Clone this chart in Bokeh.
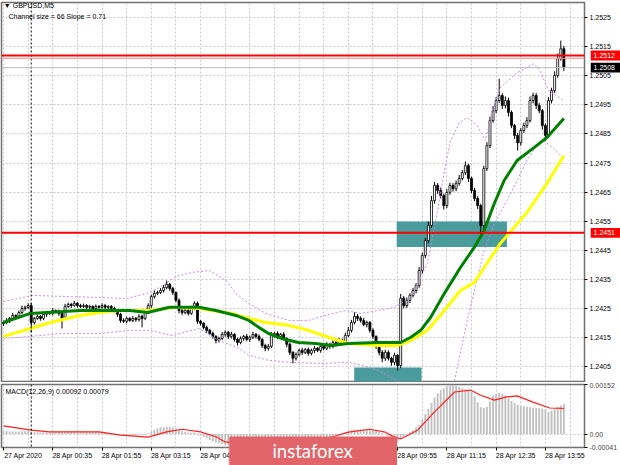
from bokeh.plotting import figure
from bokeh.models import (Range1d, FixedTicker, PrintfTickFormatter, Label, Span,
                          LinearAxis, CustomJSTickFormatter)
from bokeh.layouts import column
from bokeh.embed import file_html
from bokeh.resources import INLINE
from bokeh.core.properties import value

FONT = "Liberation Sans"

# ---------------- data ----------------
chart_title = "\u25BC GBPUSD,M5"
channel_text = "Channel size = 66 Slope = 0.71"
macd_text = "MACD(12,26,9) 0.00092 0.00079"
watermark_text = "instaforex"

time_tick_bars = [0, 16, 32, 48, 64, 80, 96, 112, 128, 144, 160, 176]
time_tick_labels = ["27 Apr 2020", "28 Apr 00:35", "28 Apr 01:55", "28 Apr 03:15",
                    "28 Apr 04:35", "28 Apr 05:55", "28 Apr 07:15", "28 Apr 08:35",
                    "28 Apr 09:55", "28 Apr 11:15", "28 Apr 12:35", "28 Apr 13:55"]
day_start_bar = 9

price_ticks = [1.2405, 1.2415, 1.2425, 1.2435, 1.2445, 1.2455, 1.2465,
               1.2475, 1.2485, 1.2495, 1.2505, 1.2515, 1.2525]
macd_ticks = [-0.00041, 0.0, 0.00152]

# prices in points above 1.2 (1 point = 0.00001)
first_open_pts = 4198
close_pts = [
    4202, 4209, 4216, 4226, 4223, 4236, 4250, 4254, 4260, 4202,
    4216, 4223, 4216, 4230, 4236, 4233, 4243, 4240, 4233, 4216,
    4257, 4264, 4260, 4268, 4260, 4257, 4260, 4254, 4257, 4250,
    4257, 4254, 4260, 4254, 4257, 4250, 4243, 4230, 4209, 4206,
    4216, 4209, 4216, 4212, 4223, 4216, 4236, 4260, 4291, 4302,
    4305, 4312, 4322, 4333, 4319, 4305, 4278, 4243, 4236, 4243,
    4233, 4250, 4268, 4206, 4199, 4185, 4175, 4164, 4154, 4140,
    4147, 4161, 4168, 4154, 4161, 4144, 4133, 4147, 4154, 4144,
    4151, 4161, 4154, 4144, 4123, 4113, 4120, 4157, 4164, 4154,
    4161, 4147, 4127, 4099, 4079, 4092, 4106, 4099, 4109, 4096,
    4106, 4113, 4106, 4120, 4113, 4127, 4120, 4133, 4127, 4140,
    4133, 4157, 4175, 4202, 4223, 4216, 4209, 4195, 4202, 4175,
    4154, 4123, 4099, 4079, 4099, 4079, 4065, 4089, 4054, 4285,
    4260, 4278, 4295, 4312, 4329, 4381, 4432, 4484, 4535, 4621,
    4673, 4656, 4638, 4604, 4649, 4673, 4662, 4680, 4697, 4717,
    4741, 4697, 4656, 4628, 4604, 4535, 4731, 4810, 4896, 4930,
    4965, 4982, 4948, 4965, 4924, 4879, 4845, 4820, 4862, 4879,
    4896, 4965, 4982, 4948, 4930, 4879, 4845, 4965, 4999, 5051,
    5109, 5143, 5078]
wick_up_pts = [
    6, 8, 5, 9, 4, 7, 10, 6, 8, 8,
    5, 7, 4, 9, 6, 5, 8, 4, 6, 7,
    9, 6, 5, 8, 4, 6, 7, 5, 6, 4,
    7, 5, 8, 6, 4, 5, 6, 4, 5, 7,
    6, 4, 8, 5, 7, 6, 9, 8, 7, 10,
    6, 8, 9, 13, 5, 6, 4, 7, 6, 5,
    8, 9, 7, 6, 5, 4, 6, 5, 7, 4,
    6, 8, 7, 5, 9, 4, 6, 7, 5, 8,
    6, 9, 5, 7, 4, 6, 8, 12, 6, 7,
    5, 8, 4, 6, 5, 7, 6, 9, 5, 7,
    6, 8, 5, 9, 6, 7, 5, 8, 6, 9,
    7, 10, 12, 9, 14, 8, 7, 9, 6, 5,
    7, 4, 6, 8, 9, 7, 5, 9, 4, 15,
    8, 10, 7, 9, 8, 12, 10, 9, 14, 16,
    12, 8, 10, 7, 11, 9, 8, 10, 12, 9,
    14, 7, 6, 9, 8, 6, 10, 12, 14, 16,
    12, 58, 8, 14, 10, 7, 6, 9, 8, 10,
    12, 14, 10, 9, 8, 6, 7, 12, 10, 14,
    18, 28, 10]
wick_dn_pts = [
    8, 6, 9, 5, 7, 6, 5, 8, 6, 34,
    7, 5, 8, 6, 9, 5, 7, 6, 8, 35,
    6, 5, 8, 4, 7, 6, 5, 8, 6, 5,
    7, 6, 5, 8, 6, 4, 7, 9, 8, 6,
    7, 5, 6, 8, 7, 31, 6, 5, 8, 7,
    6, 5, 7, 6, 8, 9, 7, 10, 8, 6,
    7, 5, 6, 9, 8, 7, 9, 6, 8, 10,
    7, 6, 8, 9, 7, 8, 10, 6, 8, 7,
    9, 6, 8, 7, 9, 10, 8, 6, 7, 9,
    8, 7, 10, 9, 18, 8, 7, 9, 6, 8,
    7, 9, 6, 8, 7, 6, 9, 7, 8, 6,
    9, 7, 6, 8, 7, 9, 8, 6, 10, 8,
    9, 12, 10, 14, 9, 8, 12, 10, 17, 9,
    10, 8, 9, 7, 10, 8, 12, 9, 10, 8,
    11, 12, 10, 14, 9, 8, 10, 9, 8, 7,
    8, 12, 10, 9, 12, 34, 10, 8, 9, 7,
    9, 8, 12, 10, 14, 9, 12, 27, 10, 8,
    9, 7, 10, 12, 9, 14, 18, 8, 10, 9,
    8, 7, 12]

green_ma_bars = [0, 8.7, 24.8, 41, 46.8, 53.9, 63.5, 69, 75.5, 79.7, 82.9, 86.1, 90.3,
                 95.8, 101.3, 106.5, 112, 121.6, 129, 132.3, 135.5, 138.7, 143.2, 148.4,
                 152.9, 156.1, 159.4, 162.6, 166.8, 172.3, 176.5, 182]
green_ma_pts = [4202, 4233, 4243, 4243, 4236, 4254, 4254, 4243, 4226, 4209, 4185, 4164, 4147,
                4133, 4130, 4123, 4130, 4133, 4133, 4151, 4175, 4219, 4302, 4391,
                4460, 4518, 4611, 4690, 4759, 4803, 4838, 4903]
yellow_ma_bars = [0, 8.7, 15.2, 24.8, 31.3, 37.7, 47.4, 56.1, 63.5, 74.2, 79.7, 85.2, 92.6,
                  99, 105.5, 112, 121.6, 128, 132.3, 137.7, 143.2, 148.4, 152.9, 156.1,
                  161.3, 165.8, 170, 176.5, 182]
yellow_ma_pts = [4154, 4181, 4202, 4226, 4236, 4243, 4243, 4254, 4250, 4233, 4216, 4202, 4192,
                 4175, 4151, 4130, 4123, 4123, 4140, 4175, 4243, 4312, 4339, 4391,
                 4473, 4528, 4580, 4680, 4776]
band_up_bars = [0, 9.7, 20.6, 31.3, 40, 46.5, 50.6, 56.1, 61.3, 66.8, 72.3, 75.5, 79.7,
                85.2, 92.6, 99, 104.5, 111, 116.1, 121.6, 127.1, 132.3, 137.7, 141, 143.2,
                145.2, 148.1, 150.6, 153.9, 156.5, 158.7, 161.3, 166.8, 172.3, 174.2, 177.1, 182]
band_up_pts = [4274, 4295, 4291, 4288, 4284, 4302, 4322, 4360, 4374, 4381, 4346, 4302, 4267,
               4233, 4209, 4209, 4226, 4243, 4233, 4243, 4254, 4288, 4405, 4587, 4724,
               4827, 4889, 4906, 4879, 4827, 4924, 5009, 5061, 5092, 5068, 4999, 4965]
band_lo_bars = [0, 8.7, 18.4, 31.3, 41, 47.4, 54.8, 63.5, 70, 76.5, 79.7, 86.1, 92.6,
                103.2, 112, 116.8, 121.6, 126.5, 131.3, 137.7, 144.2, 146.5, 150.6, 156.1,
                159.4, 163.5, 166.8, 170, 173.2, 175.5, 178.7, 182]
band_lo_pts = [4147, 4154, 4164, 4164, 4175, 4175, 4157, 4181, 4140, 4113, 4089, 4072, 4065,
               4061, 4065, 4054, 4037, 4010, 3982, 3934, 3951, 4003, 4209, 4449,
               4542, 4621, 4690, 4759, 4810, 4827, 4800, 4766]

zone_left = [127.7, 113.9]
zone_right = [163.5, 135.8]
zone_low = [1.24461, 1.23980]
zone_high = [1.24549, 1.24047]
level_prices = [1.2512, 1.2451]
ask_price = 1.25110
bid_price = 1.25078

tag_prices = [1.2512, 1.25078, 1.2451]
tag_texts = ["1.2512", "1.2508", "1.2451"]
tag_colors = ["#ff0000", "#000000", "#ff0000"]

# MACD main (histogram) in units of 0.00001
macd_hist = [
    9, 9, 8, 8, 8, 8, 9, 9, 9, 7,
    6, 6, 6, 6, 6, 6, 7, 7, 7, 6,
    7, 8, 8, 8, 8, 8, 8, 7, 7, 7,
    7, 6, 6, 5, 4, 3, 1, 0, -2, -4,
    -5, -5, -4, -4, -3, -3, -1, 2, 8, 13,
    17, 20, 22, 23, 22, 20, 17, 13, 10, 7,
    5, 4, 5, 2, -3, -8, -13, -18, -22, -26,
    -29, -31, -33, -34, -34, -34, -34, -33, -32, -30,
    -28, -27, -26, -26, -27, -29, -31, -29, -26, -24,
    -22, -22, -23, -25, -28, -29, -28, -26, -24, -22,
    -20, -18, -16, -14, -12, -10, -8, -6, -4, -2,
    1, 5, 8, 11, 14, 15, 15, 15, 14, 12,
    12, 10, 7, 3, 0, -5, -14, -22, -24, -14,
    -6, 0, 6, 12, 20, 28, 45, 62, 78, 95,
    112, 125, 135, 141, 147, 152, 151, 148, 145, 141,
    137, 133, 129, 115, 98, 82, 80, 83, 100, 118,
    123, 126, 124, 118, 110, 102, 95, 89, 87, 85,
    83, 82, 81, 80, 80, 79, 76, 68, 72, 78,
    83, 88, 92]
signal_bars = [0, 9, 15, 31, 38, 47, 53, 58, 64, 69, 72, 80, 90, 100, 107, 112, 119, 124,
               127, 129, 134.5, 140, 146.5, 151.6, 154.8, 159.4, 163.5, 166.8, 172, 177.4, 182]
signal_vals = [25, 12, 7, 7, -3, -9, 7, 15, 7, -8, -24, -32, -28, -22, -8, 6, 15, 6,
               -9, -15, 12, 68, 129, 135, 120, 104, 114, 117, 98, 80, 79]

# ---------------- derived ----------------
BASE = 1.2


def pts_to_price(v):
    return BASE + v / 1e5


n = len(close_pts)
bars = list(range(n))
closes = [pts_to_price(c) for c in close_pts]
opens = [pts_to_price(first_open_pts)] + closes[:-1]
body_top = [max(o, c) for o, c in zip(opens, closes)]
body_bot = [min(o, c) for o, c in zip(opens, closes)]
highs = [t + u / 1e5 for t, u in zip(body_top, wick_up_pts)]
lows = [b - d / 1e5 for b, d in zip(body_bot, wick_dn_pts)]
body_fill = ["white" if c >= o else "black" for o, c in zip(opens, closes)]
hist_vals = [h / 1e5 for h in macd_hist]
sig_vals = [s / 1e5 for s in signal_vals]
grid_bars = list(range(0, 189, 8))
LABEL_SHIFT = 6.4
label_centers = [b + LABEL_SHIFT for b in time_tick_bars]

GRID = "#c8c8c8"
PURPLE = "#c58be8"
FRAME = "#707070"

x_range = Range1d(-0.65, 188.7)
price_range = Range1d(1.23999, 1.25302)

# ---------------- main chart ----------------
p = figure(width=620, height=382, x_range=x_range, y_range=price_range, title=None,
           output_backend="svg", toolbar_location=None,
           x_axis_location=None, y_axis_location="right",
           min_border_left=1, min_border_right=32, min_border_top=2, min_border_bottom=1)
p.outline_line_color = FRAME
p.outline_line_width = 1.5
p.background_fill_color = "white"
p.border_fill_color = "white"

ya = p.yaxis[0]
ya.ticker = FixedTicker(ticks=price_ticks)
ya.formatter = PrintfTickFormatter(format="%.4f")
ya.major_label_text_font = FONT
ya.major_label_text_font_size = "7px"
ya.major_label_text_color = "black"
ya.major_tick_out = 3
ya.major_tick_in = 0
ya.minor_tick_out = 0
ya.minor_tick_in = 0
ya.major_label_standoff = 2
ya.axis_line_color = None

p.xgrid.ticker = FixedTicker(ticks=grid_bars)
for g in (p.xgrid[0], p.ygrid[0]):
    g.grid_line_color = GRID
    g.grid_line_dash = "2 2"
    g.grid_line_width = 1

p.add_layout(Span(location=day_start_bar, dimension="height", line_color="black",
                  line_dash="2 2", line_width=1))

# zones
p.quad(left=zone_left, right=zone_right, bottom=zone_low, top=zone_high,
       fill_color="#4a9b9b", line_color=None)

# levels
for lv in level_prices:
    p.add_layout(Span(location=lv, dimension="width", line_color="#ff0000", line_width=2))
p.add_layout(Span(location=ask_price, dimension="width", line_color="#ff9090", line_width=1))
p.add_layout(Span(location=bid_price, dimension="width", line_color="#b8b8b8", line_width=1))

# candles
p.segment(x0=bars, y0=lows, x1=bars, y1=highs, line_color="black", line_width=1)
p.vbar(x=bars, width=0.65, top=body_top, bottom=body_bot, fill_color=body_fill,
       line_color="black", line_width=0.8)

# bands
p.line(band_up_bars, [pts_to_price(v) for v in band_up_pts], line_color=PURPLE,
       line_dash="2 2", line_width=1)
p.line(band_lo_bars, [pts_to_price(v) for v in band_lo_pts], line_color=PURPLE,
       line_dash="2 2", line_width=1)

# moving averages
p.line(yellow_ma_bars, [pts_to_price(v) for v in yellow_ma_pts], line_color="#ffff00",
       line_width=3, line_join="round")
p.line(green_ma_bars, [pts_to_price(v) for v in green_ma_pts], line_color="#008000",
       line_width=3, line_join="round")

# texts
p.add_layout(Label(x=0.1, y=1.25290, text=chart_title, text_font=FONT,
                   text_font_size="7px", text_baseline="middle", text_color="black"))
p.add_layout(Label(x=1.6, y=1.25253, text=channel_text, text_font=FONT,
                   text_font_size="7px", text_baseline="middle", text_color="black"))

# ---------------- price tags overlay (over the right axis strip) ----------------
tags = figure(frame_width=31, frame_height=379, x_range=Range1d(0, 1), y_range=price_range,
              title=None, output_backend="svg", toolbar_location=None,
              x_axis_location=None, y_axis_location=None,
              min_border=0, min_border_left=0, min_border_right=0,
              min_border_top=0, min_border_bottom=0,
              styles={"position": "absolute", "left": "589px", "top": "2px"})
tags.background_fill_alpha = 0
tags.border_fill_alpha = 0
tags.outline_line_color = None
tags.grid.visible = False
tags.quad(left=[0] * len(tag_prices), right=[1] * len(tag_prices),
          bottom=[v - 0.00017 for v in tag_prices], top=[v + 0.00017 for v in tag_prices],
          fill_color=tag_colors, line_color=None)
tags.text(x=[0.1] * len(tag_prices), y=tag_prices, text=tag_texts, text_font=value(FONT),
          text_font_size="7px", text_color="white", text_baseline="middle", text_align="left")

# ---------------- MACD ----------------
m = figure(width=620, height=83, x_range=x_range, y_range=Range1d(-0.00041, 0.00152),
           title=None, output_backend="svg", toolbar_location=None,
           x_axis_location=None, y_axis_location="right",
           min_border_left=1, min_border_right=32, min_border_top=2, min_border_bottom=18)
m.outline_line_color = FRAME
m.outline_line_width = 1.5
m.background_fill_color = "white"
m.border_fill_color = "white"

tick_axis = LinearAxis(ticker=FixedTicker(ticks=time_tick_bars),
                       formatter=CustomJSTickFormatter(code="return ''"),
                       major_tick_out=3, major_tick_in=0, minor_tick_out=0, minor_tick_in=0,
                       axis_line_color=None, major_label_standoff=0,
                       major_label_text_font_size="1px")
m.add_layout(tick_axis, "below")
label_axis = LinearAxis(ticker=FixedTicker(ticks=label_centers),
                        major_label_overrides=dict(zip(label_centers, time_tick_labels)),
                        major_tick_out=0, major_tick_in=0, minor_tick_out=0, minor_tick_in=0,
                        axis_line_color=None, major_label_standoff=1,
                        major_label_text_font=FONT, major_label_text_font_size="7px",
                        major_label_text_color="black")
m.add_layout(label_axis, "below")

my = m.yaxis[0]
my.ticker = FixedTicker(ticks=macd_ticks)
my.formatter = PrintfTickFormatter(format="%.5f")
my.major_label_overrides = {0: "0.00"}
my.major_label_text_font = FONT
my.major_label_text_font_size = "7px"
my.major_tick_out = 3
my.major_tick_in = 0
my.minor_tick_out = 0
my.minor_tick_in = 0
my.major_label_standoff = 2
my.axis_line_color = None

m.xgrid.ticker = FixedTicker(ticks=grid_bars)
m.ygrid.ticker = FixedTicker(ticks=[0.0])
for g in (m.xgrid[0], m.ygrid[0]):
    g.grid_line_color = GRID
    g.grid_line_dash = "2 2"

m.add_layout(Span(location=day_start_bar, dimension="height", line_color="black",
                  line_dash="2 2", line_width=1))

m.vbar(x=bars, width=0.6, top=hist_vals, bottom=0, fill_color="#c0c0c0", line_color=None)
m.line(signal_bars, sig_vals, line_color="#ff2020", line_width=1.2)

m.add_layout(Label(x=0.65, y=0.001306, text=macd_text, text_font=FONT,
                   text_font_size="7px", text_baseline="middle", text_color="black"))

# ---------------- watermark overlay ----------------
wm = figure(frame_width=169, frame_height=29, x_range=Range1d(0, 1), y_range=Range1d(0, 1),
            title=None, output_backend="svg", toolbar_location=None,
            x_axis_location=None, y_axis_location=None,
            min_border=0, min_border_left=0, min_border_right=0,
            min_border_top=0, min_border_bottom=0,
            styles={"position": "absolute", "left": "228px", "top": "436px"})
wm.background_fill_color = "#e06468"
wm.border_fill_color = "#e06468"
wm.outline_line_color = None
wm.grid.visible = False
wm.text(x=[0.254], y=[0.5], text=[watermark_text], text_font=value("Lato"),
        text_font_size="18.5px", text_color="white", text_align="left",
        text_baseline="middle")

layout = column(p, m, tags, wm, spacing=0)
open("out.html", "w").write(file_html(layout, INLINE))
